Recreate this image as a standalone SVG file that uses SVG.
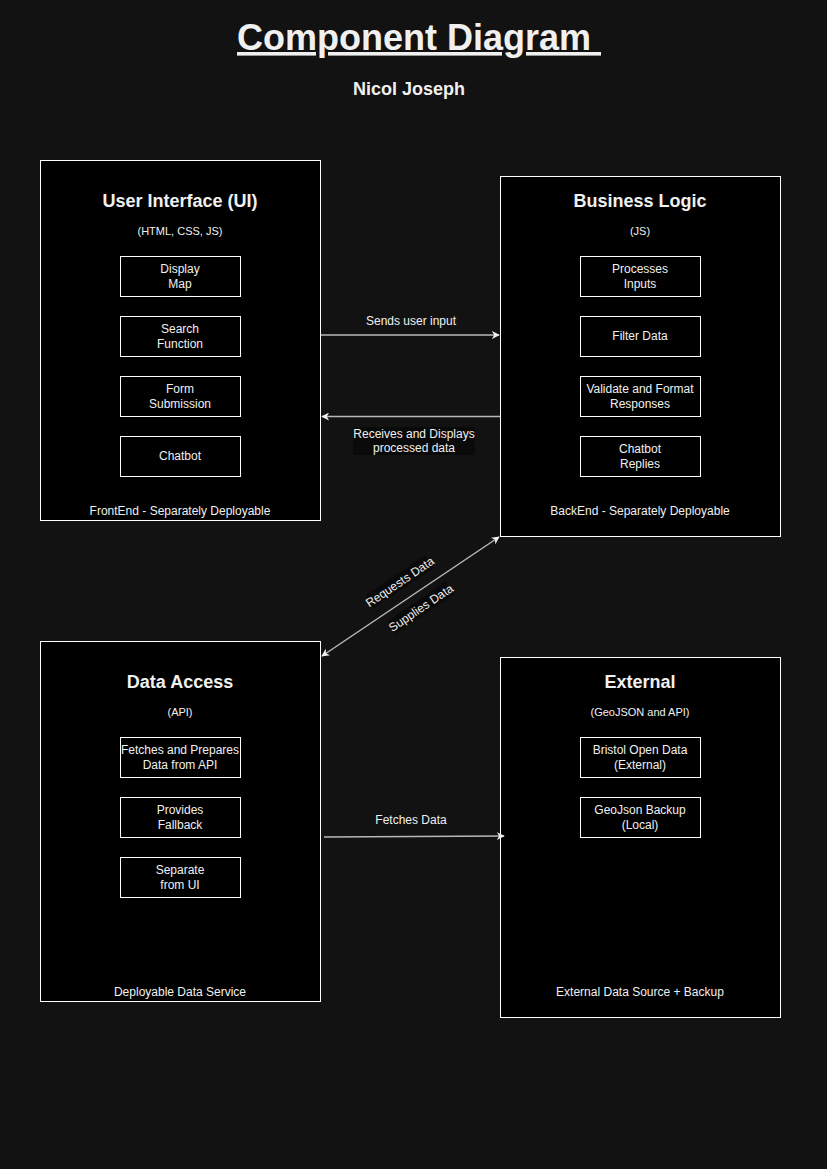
<svg xmlns="http://www.w3.org/2000/svg" width="827" height="1169" viewBox="0 0 827 1169">
<defs>
<style>
text{font-family:"Liberation Sans",Arial,sans-serif;fill:#f0f0f0;text-anchor:middle}
.box{fill:#000;stroke:#fff;stroke-width:1}
.inner{fill:#000;stroke:#fff;stroke-width:1}
.t{font-size:18px;font-weight:bold}
.s{font-size:11px}
.n{font-size:12px}
.conn{stroke:#b8b8b8;stroke-width:1.5;fill:none}
.lbg{fill:#0a0a0a}
</style>
<marker id="ah" viewBox="0 0 10 10" refX="9" refY="5" markerWidth="8" markerHeight="8" markerUnits="userSpaceOnUse" orient="auto-start-reverse">
<path d="M0,0 L10,5 L0,10 L3,5 Z" fill="#f0f0f0"/>
</marker>
</defs>
<rect width="827" height="1169" fill="#121212"/>
<g id="title">
<text x="237" y="50" style="font-size:36px;font-weight:bold;text-decoration:underline;text-anchor:start">Component Diagram&#160;</text>
<text x="409" y="95" style="font-size:18px;font-weight:bold">Nicol Joseph</text>
</g>
<g id="ui">
<rect class="box" x="40.5" y="160.5" width="280" height="360"/>
<text class="t" x="180" y="207">User Interface (UI)</text>
<text class="s" x="180" y="235">(HTML, CSS, JS)</text>
<rect class="inner" x="120.5" y="256.5" width="120" height="40"/>
<text class="n" x="180" y="273">Display</text><text class="n" x="180" y="288">Map</text>
<rect class="inner" x="120.5" y="316.5" width="120" height="40"/>
<text class="n" x="180" y="333">Search</text><text class="n" x="180" y="348">Function</text>
<rect class="inner" x="120.5" y="376.5" width="120" height="40"/>
<text class="n" x="180" y="393">Form</text><text class="n" x="180" y="408">Submission</text>
<rect class="inner" x="120.5" y="436.5" width="120" height="40"/>
<text class="n" x="180" y="460">Chatbot</text>
<text class="n" x="180" y="515">FrontEnd - Separately Deployable</text>
</g>
<g id="business">
<rect class="box" x="500.5" y="176.5" width="280" height="360"/>
<text class="t" x="640" y="207">Business Logic</text>
<text class="s" x="640" y="235">(JS)</text>
<rect class="inner" x="580.5" y="256.5" width="120" height="40"/>
<text class="n" x="640" y="273">Processes</text><text class="n" x="640" y="288">Inputs</text>
<rect class="inner" x="580.5" y="316.5" width="120" height="40"/>
<text class="n" x="640" y="340">Filter Data</text>
<rect class="inner" x="580.5" y="376.5" width="120" height="40"/>
<text class="n" x="640" y="393">Validate and Format</text><text class="n" x="640" y="408">Responses</text>
<rect class="inner" x="580.5" y="436.5" width="120" height="40"/>
<text class="n" x="640" y="453">Chatbot</text><text class="n" x="640" y="468">Replies</text>
<text class="n" x="640" y="515">BackEnd - Separately Deployable</text>
</g>
<g id="data">
<rect class="box" x="40.5" y="641.5" width="280" height="360"/>
<text class="t" x="180" y="688">Data Access</text>
<text class="s" x="180" y="716">(API)</text>
<rect class="inner" x="120.5" y="737.5" width="120" height="40"/>
<text class="n" x="180" y="754">Fetches and Prepares</text><text class="n" x="180" y="769">Data from API</text>
<rect class="inner" x="120.5" y="797.5" width="120" height="40"/>
<text class="n" x="180" y="814">Provides</text><text class="n" x="180" y="829">Fallback</text>
<rect class="inner" x="120.5" y="857.5" width="120" height="40"/>
<text class="n" x="180" y="874">Separate</text><text class="n" x="180" y="889">from UI</text>
<text class="n" x="180" y="996">Deployable Data Service</text>
</g>
<g id="external">
<rect class="box" x="500.5" y="657.5" width="280" height="360"/>
<text class="t" x="640" y="688">External</text>
<text class="s" x="640" y="716">(GeoJSON and API)</text>
<rect class="inner" x="580.5" y="737.5" width="120" height="40"/>
<text class="n" x="640" y="754">Bristol Open Data</text><text class="n" x="640" y="769">(External)</text>
<rect class="inner" x="580.5" y="797.5" width="120" height="40"/>
<text class="n" x="640" y="814">GeoJson Backup</text><text class="n" x="640" y="829">(Local)</text>
<text class="n" x="640" y="996">External Data Source + Backup</text>
</g>
<g id="connectors">
<line class="conn" x1="321" y1="335" x2="499" y2="335" marker-end="url(#ah)"/>
<text class="n" x="411" y="325">Sends user input</text>
<line class="conn" x1="500" y1="416.5" x2="322" y2="416.5" marker-end="url(#ah)"/>
<rect class="lbg" x="353" y="427" width="122" height="28"/>
<text class="n" x="414" y="438">Receives and Displays</text>
<text class="n" x="414" y="452">processed data</text>
<line class="conn" x1="322" y1="656" x2="499" y2="537" marker-start="url(#ah)" marker-end="url(#ah)"/>
<g transform="translate(400,582) rotate(-34)">
<rect class="lbg" x="-36" y="-8" width="72" height="15"/>
<text class="n" x="0" y="4">Requests Data</text>
</g>
<g transform="translate(421,608) rotate(-34)">
<rect class="lbg" x="-35" y="-8" width="70" height="15"/>
<text class="n" x="0" y="4">Supplies Data</text>
</g>
<line class="conn" x1="324" y1="837" x2="504" y2="836" marker-end="url(#ah)"/>
<text class="n" x="411" y="824">Fetches Data</text>
</g>
</svg>
